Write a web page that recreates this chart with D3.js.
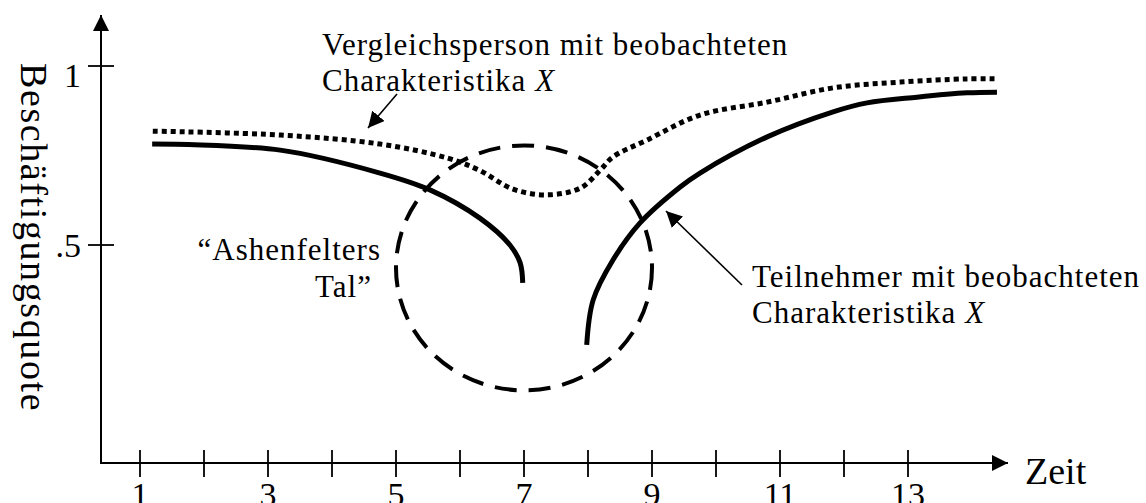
<!DOCTYPE html>
<html>
<head>
<meta charset="utf-8">
<script src="https://cdn.jsdelivr.net/npm/d3@7"></script>
<style>
  html, body { margin: 0; padding: 0; background: #fff; }
  svg { display: block; font-family: "Liberation Serif", "Times New Roman", serif; }
</style>
</head>
<body>
<svg id="chart" width="1146" height="503"></svg>
<script>
// time ticks (all drawn) and labelled ones
const xTicks = [1, 2, 3, 4, 5, 6, 7, 8, 9, 10, 11, 12, 13]
const xLabels = [1, 3, 5, 7, 9, 11, 13]
const yTicks = [0.5, 1]
const yLabels = ['.5', '1']

// Vergleichsperson (dotted)
const compT = [1.2, 3.2, 4.75, 5.8, 6.3, 6.83, 7.36, 7.88, 8.19, 8.39, 8.92, 9.75, 10.8, 11.83, 12.88, 13.92, 14.4]
const compV = [0.818, 0.807, 0.782, 0.743, 0.709, 0.656, 0.64, 0.659, 0.709, 0.746, 0.793, 0.863, 0.899, 0.939, 0.955, 0.964, 0.964]

// Teilnehmer before the dip (solid)
const partPreT = [1.19, 3.19, 4.75, 5.53, 6.31, 6.78, 6.94, 6.98]
const partPreV = [0.782, 0.765, 0.701, 0.654, 0.575, 0.5, 0.45, 0.394]

// Teilnehmer after the programme (solid)
const partPostT = [7.98, 8.08, 8.39, 8.81, 9.44, 9.75, 10.8, 11.83, 12.36, 13.14, 13.92, 14.39]
const partPostV = [0.221, 0.346, 0.458, 0.561, 0.662, 0.701, 0.802, 0.872, 0.897, 0.913, 0.925, 0.927]

// "Ashenfelters Tal" ellipse: centre and half-axes in data units
const dipCentre = [7, 0.436]
const dipRadius = [2, 0.342]

const svg = d3.select('#chart')

const x = d3.scaleLinear().domain([1, 13]).range([140, 908])
const y = d3.scaleLinear().domain([0.5, 1]).range([245, 66])

const originX = 101
const originY = 463
const ink = '#000'

// arrow marker
const defs = svg.append('defs')
defs.append('marker')
  .attr('id', 'head')
  .attr('viewBox', '0 0 10 10')
  .attr('refX', 10).attr('refY', 5)
  .attr('markerWidth', 16).attr('markerHeight', 16)
  .attr('markerUnits', 'userSpaceOnUse')
  .attr('orient', 'auto')
  .append('path').attr('d', 'M0,0 L10,5 L0,10 Z').attr('fill', ink)

// axes
svg.append('line')
  .attr('x1', originX).attr('y1', originY)
  .attr('x2', 1008).attr('y2', originY)
  .attr('stroke', ink).attr('stroke-width', 2)
  .attr('marker-end', 'url(#head)')
svg.append('line')
  .attr('x1', originX).attr('y1', originY + 1)
  .attr('x2', originX).attr('y2', 15)
  .attr('stroke', ink).attr('stroke-width', 2)
  .attr('marker-end', 'url(#head)')

svg.append('g').selectAll('line')
  .data(xTicks).join('line')
  .attr('x1', d => x(d)).attr('x2', d => x(d))
  .attr('y1', originY - 13).attr('y2', originY + 14)
  .attr('stroke', ink).attr('stroke-width', 1.8)

svg.append('g').selectAll('text')
  .data(xLabels).join('text')
  .attr('x', d => x(d)).attr('y', 506)
  .attr('text-anchor', 'middle')
  .attr('font-size', 34)
  .text(d => d)

svg.append('g').selectAll('line')
  .data(yTicks).join('line')
  .attr('x1', originX - 13).attr('x2', originX + 13)
  .attr('y1', d => y(d)).attr('y2', d => y(d))
  .attr('stroke', ink).attr('stroke-width', 1.8)

svg.append('g').selectAll('text')
  .data(yTicks).join('text')
  .attr('x', 81)
  .attr('y', (d, i) => y(d) + (i === 0 ? 12 : 21))
  .attr('text-anchor', 'end')
  .attr('font-size', 34)
  .text((d, i) => yLabels[i])

svg.append('text')
  .attr('transform', 'translate(21,63) rotate(90)')
  .attr('font-size', 38)
  .attr('letter-spacing', 1.6)
  .text('Beschäftigungsquote')

svg.append('text')
  .attr('x', 1025).attr('y', 484)
  .attr('font-size', 38)
  .text('Zeit')

// curves
const line = d3.line()
  .x(d => x(d[0])).y(d => y(d[1]))
  .curve(d3.curveCatmullRom.alpha(0.5))

svg.append('path')
  .datum(d3.zip(compT, compV))
  .attr('d', line)
  .attr('fill', 'none').attr('stroke', ink)
  .attr('stroke-width', 5).attr('stroke-dasharray', '5 4')

for (const [ts, vs] of [[partPreT, partPreV], [partPostT, partPostV]]) {
  svg.append('path')
    .datum(d3.zip(ts, vs))
    .attr('d', line)
    .attr('fill', 'none').attr('stroke', ink)
    .attr('stroke-width', 5)
}

// dashed ellipse
svg.append('ellipse')
  .attr('cx', x(dipCentre[0])).attr('cy', y(dipCentre[1]))
  .attr('rx', x(dipCentre[0] + dipRadius[0]) - x(dipCentre[0]))
  .attr('ry', y(dipCentre[1] - dipRadius[1]) - y(dipCentre[1]))
  .attr('fill', 'none').attr('stroke', ink)
  .attr('stroke-width', 4).attr('stroke-dasharray', '22 12')

// annotations
function label(lines, px, py, anchor) {
  const t = svg.append('text')
    .attr('font-size', 31)
    .attr('letter-spacing', 1)
    .attr('text-anchor', anchor)
  lines.forEach((l, i) => {
    const ts = t.append('tspan').attr('x', px).attr('y', py + i * 36)
    if (l.endsWith(' X')) {
      ts.text(l.slice(0, -1))
      ts.append('tspan').attr('font-style', 'italic').text('X')
    } else {
      ts.text(l)
    }
  })
}

label(['Vergleichsperson mit beobachteten', 'Charakteristika X'], 322, 55, 'start')
label(['Teilnehmer mit beobachteten', 'Charakteristika X'], 752, 287, 'start')

svg.append('text')
  .attr('font-size', 31).attr('letter-spacing', 1)
  .attr('text-anchor', 'end')
  .selectAll('tspan')
  .data(['“Ashenfelters', 'Tal”'])
  .join('tspan')
  .attr('x', (d, i) => i === 0 ? 381 : 372)
  .attr('y', (d, i) => 260 + i * 37)
  .text(d => d)

svg.append('line')
  .attr('x1', 397).attr('y1', 94).attr('x2', 368).attr('y2', 128)
  .attr('stroke', ink).attr('stroke-width', 1.6)
  .attr('marker-end', 'url(#head)')
svg.append('line')
  .attr('x1', 742).attr('y1', 285).attr('x2', 666).attr('y2', 211)
  .attr('stroke', ink).attr('stroke-width', 1.6)
  .attr('marker-end', 'url(#head)')
</script>
</body>
</html>
